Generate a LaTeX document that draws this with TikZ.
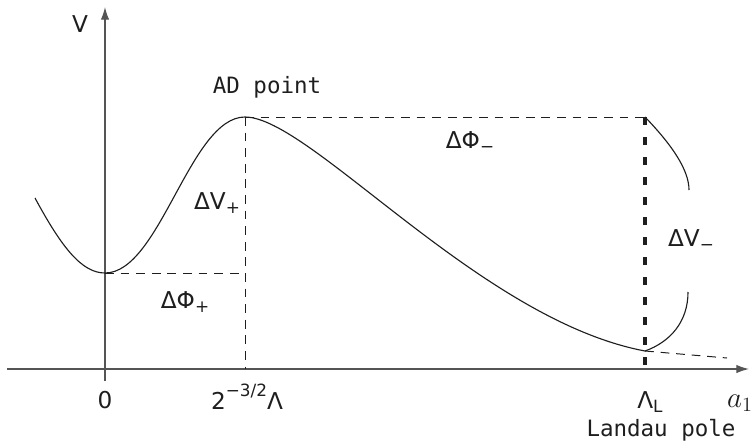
\documentclass[tikz,border=0pt]{standalone}
\usepackage{fontspec}
\setmainfont{DejaVu Sans}
\newfontfamily\monofam{DejaVu Sans Mono}
\usepackage{tikz}
\usetikzlibrary{arrows.meta}
\definecolor{Caxis}{RGB}{85, 85, 85}
\definecolor{Cline}{RGB}{30, 30, 30}
\newcommand{\lowsub}[1]{\raisebox{-0.35ex}{\fontsize{12}{12}\selectfont #1}}
\newcommand{\highsup}[1]{\raisebox{1.0ex}{\fontsize{12}{12}\selectfont #1}}
\tikzset{
    axisarr/.style={-{Latex[length=9pt, width=6pt]}, draw=Caxis, line width=0.9pt},
    potline/.style={draw=Cline, line width=0.8pt},
    guide/.style={draw=Cline, line width=0.7pt, dash pattern=on 0.22cm off 0.17cm},
    thickguide/.style={draw=Cline, line width=2.6pt, dash pattern=on 0.2cm off 0.3cm},
    lbl/.style={font=\fontsize{16.5}{19}\selectfont, inner sep=0pt, text=Cline},
    monolbl/.style={font=\monofam\fontsize{16}{19}\selectfont, inner sep=0pt, text=Cline},
}

\begin{document}
\begin{tikzpicture}[x=0.025cm, y=-0.025cm]
    \useasboundingbox (0,0) rectangle (753,442);

    % key points of the potential
    \coordinate (vleft) at (35,198);
    \coordinate (vmin) at (105,273);
    \coordinate (adpt) at (245,117);
    \coordinate (landau) at (645,351);
    \coordinate (topL) at (645,117);
    \coordinate (minR) at (245,273);
    \coordinate (axAD) at (245,369);
    \coordinate (axL) at (645,369);
    \coordinate (xstart) at (7,369);
    \coordinate (xend) at (749,369);
    \coordinate (ystart) at (105,381);
    \coordinate (yend) at (105,7);
    \coordinate (tailend) at (727,358);
    \coordinate (braceA) at (689,190);
    \coordinate (braceB) at (688,292);

    % axes
    \draw [axisarr] (xstart) -- (xend);
    \draw [axisarr] (ystart) -- (yend);

    % guides
    \draw [guide] (vmin) -- (minR);
    \draw [guide] (adpt) -- (axAD);
    \draw [guide] (adpt) -- (topL);
    \draw [guide] (landau) -- (tailend);
    \draw [thickguide] (topL) -- (axL);

    % potential
    \draw [potline] (vleft) .. controls (62,248) and (82,273) .. (vmin)
        .. controls (160,273) and (190,117) .. (adpt)
        .. controls (310,117) and (480,320) .. (landau);

    % brace arcs
    \draw [potline] (topL) .. controls (672,145) and (689,170) .. (braceA);
    \draw [potline] (braceB) .. controls (688,322) and (670,342) .. (landau);

    % labels
    \node [lbl] (lblV) at (80,24) {V};
    \node [monolbl] (lblAD) at (267,87) {AD point};
    \node [lbl] (lblPhiM) at (470,142) {ΔΦ\lowsub{−}};
    \node [lbl] (lblVP) at (217,203) {ΔV\lowsub{+}};
    \node [lbl] (lblPhiP) at (185,302) {ΔΦ\lowsub{+}};
    \node [lbl] (lblVM) at (691,240) {ΔV\lowsub{−}};
    \node [lbl] (lblZero) at (105,400) {0};
    \node [lbl] (lblLam) at (247,397) {2\highsup{−3/2}Λ};
    \node [lbl] (lblLamL) at (650,402) {Λ\lowsub{L}};
    \node [lbl, font=\fontsize{22}{24}\selectfont] (lblA) at (740,403) {$a_1$};
    \node [monolbl] (lblPole) at (661,430) {Landau pole};

\end{tikzpicture}
\end{document}
